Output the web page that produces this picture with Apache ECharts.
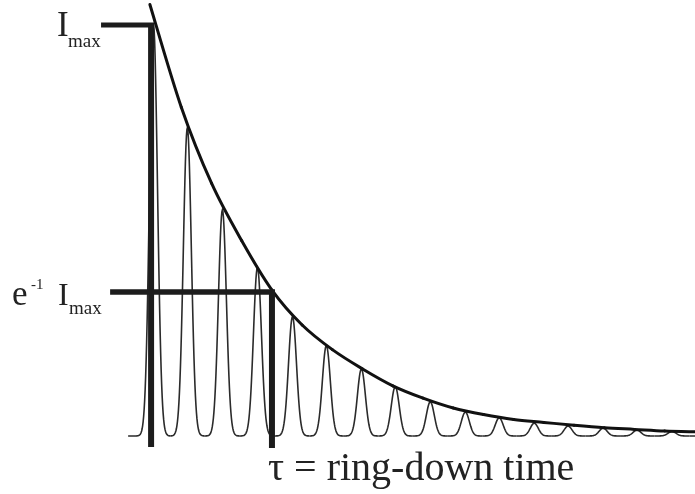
<!DOCTYPE html>
<html>
<head>
<meta charset="utf-8">
<style>
  html, body { margin: 0; padding: 0; background: #ffffff; }
  #chart { width: 695px; height: 494px; }
</style>
<script src="https://cdn.jsdelivr.net/npm/echarts/dist/echarts.min.js"></script>
</head>
<body>
<div id="chart"></div>
<script>
// Cavity ring-down: transmitted pulses under an exponential envelope.
// Time is in units of the ring-down time tau, intensity in units of Imax.

// pulse peak times and peak intensities
const peakTimes   = [0.02, 0.30, 0.59, 0.88, 1.17, 1.45, 1.74, 2.02, 2.31, 2.60, 2.88, 3.17, 3.45, 3.74, 4.02, 4.31, 4.60];
const peakHeights = [1.00, 0.75, 0.55, 0.41, 0.29, 0.22, 0.163, 0.12, 0.083, 0.058, 0.044, 0.031, 0.024, 0.019, 0.014, 0.011, 0.008];

// decay envelope, sampled along the curve
const envelopeTimes  = [-0.01, 0.25, 0.50, 0.75, 1.00, 1.25, 1.50, 1.75, 2.00, 2.25, 2.50, 2.75, 3.00, 3.25, 3.50, 3.75, 4.00, 4.25, 4.50];
const envelopeValues = [1.05, 0.80, 0.615, 0.475, 0.355, 0.27, 0.21, 0.163, 0.122, 0.092, 0.068, 0.052, 0.040, 0.033, 0.026, 0.020, 0.016, 0.012, 0.010];

// reference levels and marker time
const imaxLevel = 1.0;
const tauLevel = 0.35;
const tauTime = 1.0;

// extent of the pulse trace along the baseline
const traceStart = -0.19;
const traceEnd = 4.75;

const chart = echarts.init(document.getElementById('chart'), null, { renderer: 'canvas' });

// one pulse, drawn from the trough before it to the trough after it
function renderPulse(params, api) {
  const i = params.dataIndex;
  const t = api.value(0);
  const h = api.value(1);
  const tl = i === 0 ? traceStart : (peakTimes[i - 1] + t) / 2;
  const tr = i === peakTimes.length - 1 ? traceEnd : (peakTimes[i + 1] + t) / 2;
  const top = api.coord([t, h]);
  const base = api.coord([t, 0]);
  const xl = api.coord([tl, 0])[0];
  const xr = api.coord([tr, 0])[0];
  const amp = base[1] - top[1];
  const sigma = 4;
  const yAt = function (x) {
    const d = x - top[0];
    return base[1] - amp * Math.exp(-d * d / (2 * sigma * sigma));
  };
  const pts = [];
  for (let x = xl; x < xr; x += 0.5) pts.push([x, yAt(x)]);
  pts.push([xr, yAt(xr)]);
  return {
    type: 'polyline',
    shape: { points: pts },
    style: { stroke: '#2b2b2b', lineWidth: 1.6, fill: null }
  };
}

// envelope: Catmull-Rom segment between consecutive samples
function renderEnvelope(params, api) {
  const i = params.dataIndex;
  const n = envelopeTimes.length;
  if (i >= n - 1) return null;
  const P = function (k) {
    k = Math.max(0, Math.min(n - 1, k));
    return api.coord([envelopeTimes[k], envelopeValues[k]]);
  };
  const p0 = P(i - 1), p1 = P(i), p2 = P(i + 1), p3 = P(i + 2);
  return {
    type: 'bezierCurve',
    shape: {
      x1: p1[0], y1: p1[1],
      x2: p2[0], y2: p2[1],
      cpx1: p1[0] + (p2[0] - p0[0]) / 6, cpy1: p1[1] + (p2[1] - p0[1]) / 6,
      cpx2: p2[0] - (p3[0] - p1[0]) / 6, cpy2: p2[1] - (p3[1] - p1[1]) / 6
    },
    style: { stroke: '#111111', lineWidth: 3, fill: null, lineCap: 'round' }
  };
}

function bar(points, width) {
  return {
    type: 'line',
    data: points,
    symbol: 'none',
    silent: true,
    z: 4,
    lineStyle: { color: '#1c1c1c', width: width, cap: 'butt' }
  };
}

const font = '"Liberation Serif", "Times New Roman", serif';

function label(text, x, y, size) {
  return {
    type: 'text',
    style: {
      text: text,
      x: x,
      y: y,
      fill: '#222222',
      font: size + 'px ' + font,
      textAlign: 'left',
      textVerticalAlign: 'middle'
    },
    silent: true
  };
}

const option = {
  animation: false,
  backgroundColor: '#ffffff',
  grid: { left: 0, right: 0, top: 4.45, bottom: 41.6 },
  xAxis: {
    type: 'value', min: -1.25, max: 4.5, show: false,
    splitLine: { show: false }
  },
  yAxis: {
    type: 'value', min: -0.04, max: 1.05, show: false,
    splitLine: { show: false }
  },
  series: [
    {
      type: 'custom',
      renderItem: renderPulse,
      data: peakTimes.map(function (t, i) { return [t, peakHeights[i]]; }),
      silent: true,
      z: 2
    },
    {
      type: 'custom',
      renderItem: renderEnvelope,
      data: envelopeTimes.map(function (t, i) { return [t, envelopeValues[i]]; }),
      silent: true,
      z: 3
    },
    // Imax marker and time axis
    bar([[-0.414, imaxLevel], [0.02, imaxLevel]], 5),
    bar([[0, imaxLevel + 0.005], [0, -0.027]], 6),
    // e^-1 level and tau marker
    bar([[-0.339, tauLevel], [tauTime + 0.025, tauLevel]], 5.5),
    bar([[tauTime, tauLevel], [tauTime, -0.029]], 6)
  ],
  graphic: [
    label('I', 57, 27, 35),
    label('max', 68, 42, 19),
    label('e', 12, 296, 35),
    label('-1', 31, 285, 15),
    label('I', 58, 297, 32),
    label('max', 69, 309, 19),
    label('\u03C4 = ring-down time', 268, 469, 40)
  ]
};

chart.setOption(option);
</script>
</body>
</html>
